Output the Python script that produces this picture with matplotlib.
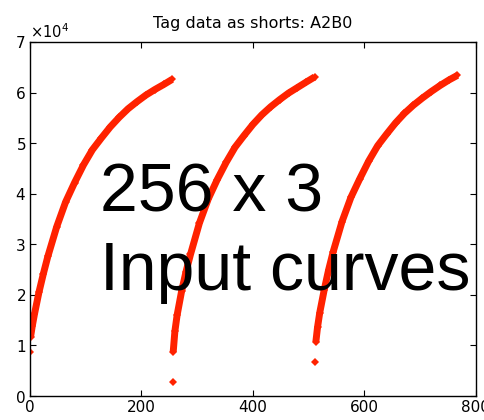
import matplotlib
matplotlib.use("Agg")
import matplotlib.pyplot as plt
from matplotlib.ticker import ScalarFormatter

offsets = [0, 1, 4, 8, 16, 24, 32, 48, 64, 80, 96, 112, 128, 144, 160, 176, 192, 208, 224, 240, 255]
curve_starts = [0, 256, 512]

# values (short integers)
curve1 = [8750, 11700, 13800, 16200, 20500, 24200, 27600, 33500, 38400, 42200, 45700,
          48700, 51000, 53200, 55100, 56800, 58200, 59500, 60600, 61600, 62600]
curve2 = [2800, 8750, 12800, 16000, 20700, 24600, 28000, 34200, 39000, 42800, 46200,
          49200, 51500, 53700, 55600, 57200, 58600, 59900, 61000, 62100, 63100]
curve3 = [6700, 10700, 13600, 16500, 21000, 25000, 28500, 34500, 39300, 43000, 46500,
          49500, 51800, 54000, 55900, 57500, 58900, 60200, 61400, 62500, 63400]
curves = [curve1, curve2, curve3]

red = "#ff2200"

fig = plt.figure(figsize=(4.84, 4.20), dpi=100)
ax = fig.add_axes([0.062, 0.057, 0.921, 0.843])

for start, vals in zip(curve_starts, curves):
    xs = [start + o for o in offsets]
    # first entry stands apart from the rest
    ax.plot(xs[:1], vals[:1], linestyle="none", marker="D", markersize=4.5,
            color=red, markeredgewidth=0)
    ax.plot(xs[1:], vals[1:], color=red, linewidth=5, solid_capstyle="butt",
            marker="D", markersize=4.2, markeredgewidth=0)

ax.set_xlim(0, 800)
ax.set_ylim(0, 70000)
ax.set_xticks([0, 200, 400, 600, 800])
ax.set_yticks([0, 10000, 20000, 30000, 40000, 50000, 60000, 70000])

fmt = ScalarFormatter(useMathText=True)
fmt.set_powerlimits((0, 0))
ax.yaxis.set_major_formatter(fmt)
ax.yaxis.get_offset_text().set_fontsize(10.5)

ax.tick_params(direction="in", length=4, width=0.8, top=True, right=True,
               labelsize=11, pad=3)
for sp in ax.spines.values():
    sp.set_linewidth(1.0)

ax.set_title("Tag data as shorts: A2B0", fontsize=11.5, pad=10)

fig.text(100 / 484, (420 - 211) / 420, "256 x 3", fontsize=49,
         family="Liberation Sans", va="baseline", ha="left")
fig.text(100 / 484, (420 - 290) / 420, "Input curves", fontsize=49,
         family="Liberation Sans", va="baseline", ha="left")

fig.savefig("out.png", dpi=100)
